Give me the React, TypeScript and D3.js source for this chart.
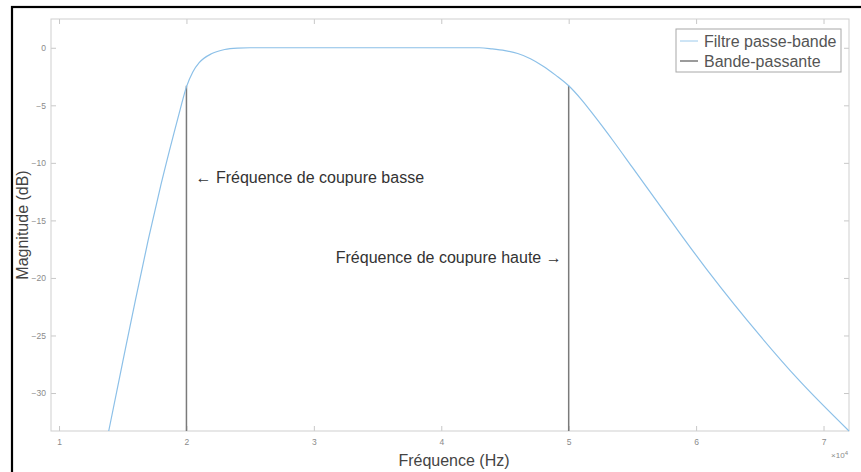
import * as d3 from "d3";
import { useRef, useEffect } from "react";

// frequency response (Hz, dB)
const freqHz = [13900, 15000, 16000, 17000, 18000, 19000, 19500, 20000, 20500, 21000, 22000, 23000, 24000, 25000, 30000, 35000, 40000, 43000, 44000, 45000, 46000, 47000, 48000, 49000, 50000, 51000, 52000, 53500, 55000, 58000, 61000, 65000, 68000, 72000];
const magDb = [-33.3, -27.3, -21.9, -16.7, -11.9, -7.5, -5.4, -3.4, -2.1, -1.3, -0.5, -0.15, -0.03, 0, 0, 0, 0, 0, -0.1, -0.25, -0.5, -0.95, -1.6, -2.4, -3.3, -4.5, -5.9, -8.1, -10.4, -15.0, -19.5, -25.0, -28.8, -33.3];

const cutoffHz = [20000, 50000];
const cutoffDb = -3.3;

const xTicks = [10000, 20000, 30000, 40000, 50000, 60000, 70000];
const yTicks = [0, -5, -10, -15, -20, -25, -30];

const legendLabels = ["Filtre passe-bande", "Bande-passante"];
const legendColors = ["#9ccaec", "#7a7a7a"];

export default function App({
    width = 861,
    height = 472,
    marginTop = 19,
    marginRight = 12,
    marginBottom = 41,
    marginLeft = 51
}) {
    const gx = useRef(null);
    const gxTop = useRef(null);
    const gy = useRef(null);
    const gyRight = useRef(null);

    const x = d3.scaleLinear([9370, 72000], [marginLeft, width - marginRight]);
    const y = d3.scaleLinear([-33.3, 2.5], [height - marginBottom, marginTop]);

    const points = freqHz.map((f, i) => [f, magDb[i]]);
    const line = d3.line((d) => x(d[0]), (d) => y(d[1])).curve(d3.curveMonotoneX);

    useEffect(() => {
        const style = (g) => {
            g.select(".domain").remove();
            g.selectAll(".tick line").attr("stroke", "#c8c8c8");
            g.selectAll(".tick text").attr("fill", "#8a8a8a").attr("font-size", 8.5)
                .attr("font-family", "Liberation Sans, Arial, sans-serif");
        };
        d3.select(gx.current)
            .call(d3.axisBottom(x).tickValues(xTicks).tickSize(-5).tickPadding(8).tickFormat((d) => d / 10000))
            .call(style);
        d3.select(gxTop.current)
            .call(d3.axisTop(x).tickValues(xTicks).tickSize(-5).tickFormat(() => ""))
            .call(style);
        d3.select(gy.current)
            .call(d3.axisLeft(y).tickValues(yTicks).tickSize(-5).tickPadding(5))
            .call(style);
        d3.select(gyRight.current)
            .call(d3.axisRight(y).tickValues(yTicks).tickSize(-5).tickFormat(() => ""))
            .call(style);
    }, []);

    const font = "Liberation Sans, Arial, sans-serif";
    const x0 = marginLeft, x1 = width - marginRight;
    const y0 = marginTop, y1 = height - marginBottom;

    return (
        <svg width={width} height={height} style={{ position: "absolute", left: 0, top: 0, background: "white" }}>
            <rect x={12} y={7} width={width} height={height} fill="white" stroke="black" strokeWidth={2.2} />
            <rect x={x0} y={y0} width={x1 - x0} height={y1 - y0} fill="white" />
            <g ref={gx} transform={`translate(0,${y1})`} />
            <g ref={gxTop} transform={`translate(0,${y0})`} />
            <g ref={gy} transform={`translate(${x0},0)`} />
            <g ref={gyRight} transform={`translate(${x1},0)`} />
            <rect x={x0} y={y0} width={x1 - x0} height={y1 - y0} fill="none" stroke="#cfcfcf" strokeWidth={1} />

            {cutoffHz.map((f, i) => (
                <line key={i} x1={x(f)} x2={x(f)} y1={y(cutoffDb)} y2={y1} stroke="#7a7a7a" strokeWidth={1.5} />
            ))}
            <path fill="none" stroke="#8cc0e8" strokeWidth={1.2} d={line(points)} />

            <text x={x(20000) + 9} y={183} fontFamily={font} fontSize={16} fill="#333">
                {"←  Fréquence de coupure basse"}
            </text>
            <text x={x(50000) - 7} y={263} fontFamily={font} fontSize={16} fill="#333" textAnchor="end">
                {"Fréquence de coupure haute →"}
            </text>

            <g transform="translate(676,29)">
                <rect width={165} height={43} fill="white" stroke="#a8a8a8" strokeWidth={1} />
                {legendLabels.map((label, i) => (
                    <g key={label} transform={`translate(0,${12 + i * 20})`}>
                        <line x1={4} x2={22} y1={0} y2={0} stroke={legendColors[i]} strokeWidth={i === 0 ? 1 : 1.5} />
                        <text x={28} y={5.5} fontFamily={font} fontSize={16} fill="#555">{label}</text>
                    </g>
                ))}
            </g>

            <text x={(x0 + x1) / 2 + 4} y={466} textAnchor="middle" fontFamily={font} fontSize={16} fill="#444">
                Fréquence (Hz)
            </text>
            <text transform={`translate(28,${(y0 + y1) / 2}) rotate(-90)`} textAnchor="middle" fontFamily={font} fontSize={16} fill="#444">
                Magnitude (dB)
            </text>
            <text x={x1 - 1} y={458} textAnchor="end" fontFamily={font} fontSize={8} fill="#8a8a8a">
                ×10<tspan dy={-3} fontSize={6}>4</tspan>
            </text>
        </svg>
    );
}
